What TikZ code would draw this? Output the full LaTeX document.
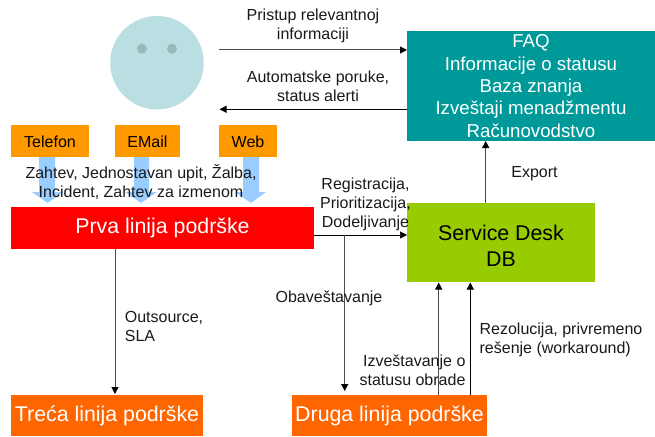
\documentclass[tikz,border=0pt]{standalone}
\usepackage{fontspec}
\setmainfont{Liberation Sans}
\usetikzlibrary{arrows.meta}
\definecolor{teal1}{HTML}{009999}
\definecolor{orange1}{HTML}{FF9900}
\definecolor{orange2}{HTML}{FF6600}
\definecolor{green1}{HTML}{99CC00}
\definecolor{face}{HTML}{B9DFE2}
\definecolor{eye}{HTML}{9AB9BC}
\definecolor{blockarrow}{HTML}{99CCFF}
\tikzset{
  x=1pt,y=-1pt,
  box/.style={draw=none,inner sep=0pt,outer sep=0pt,anchor=north west,align=center},
  lbl/.style={inner sep=0pt,outer sep=0pt,align=center,font=\fontsize{16}{19}\selectfont,text=black!90},
  conn/.style={draw=black,line width=0.7pt,-{Triangle[length=7pt,width=7pt,color=black,fill=black]}},
  conng/.style={draw=black!70,line width=1pt,-{Triangle[length=7pt,width=7pt,color=black,fill=black]}},
  fat/.style={fill=blockarrow,draw=none},
  small/.style={font=\fontsize{16}{19}\selectfont},
  big/.style={font=\fontsize{21.33}{26}\selectfont},
}
\begin{document}
\begin{tikzpicture}
\useasboundingbox (0,0) rectangle (655,436);
% face
\node[circle,fill=face,minimum size=93.5pt,inner sep=0pt] (head) at (157,62.7) {};
\node[circle,fill=eye,minimum size=10pt,inner sep=0pt] (eyeL) at (142,48.7) {};
\node[circle,fill=eye,minimum size=10pt,inner sep=0pt] (eyeR) at (172,48.7) {};
% block arrows
\fill[fat] (39,156) -- (55,156) -- (55,192) -- (63,192) -- (47.7,203) -- (32,192) -- (39,192) -- cycle;
\fill[fat] (134,156) -- (149,156) -- (149,192) -- (157,192) -- (141,203) -- (125,192) -- (134,192) -- cycle;
\fill[fat] (243,156) -- (259,156) -- (259,192) -- (266,192) -- (251,203) -- (235,192) -- (243,192) -- cycle;
% boxes
\node[box,fill=orange1,minimum width=78pt,minimum height=32pt,small,text depth=0pt] (tel) at (11,125) {\raisebox{-1pt}{Telefon}};
\node[box,fill=orange1,minimum width=65pt,minimum height=32pt,small,text depth=0pt] (mail) at (115,125) {\raisebox{-1pt}{EMail}};
\node[box,fill=orange1,minimum width=58pt,minimum height=32pt,small,text depth=0pt] (web) at (219,125) {\raisebox{-1pt}{Web}};
\node[box,fill=red,text=white,minimum width=303pt,minimum height=42pt,big] (prva) at (11,207) {Prva linija podrške};
\node[box,fill=teal1,text=white,minimum width=248pt,minimum height=110pt,font=\fontsize{18.67}{22.4}\selectfont] (faq) at (407,31) {FAQ\\Informacije o statusu\\Baza znanja\\Izveštaji menadžmentu\\Računovodstvo};
\node[box,fill=green1,minimum width=188pt,minimum height=79pt,big] (sd) at (407,203) {\rule{0pt}{21pt}Service Desk\\DB};
\node[box,fill=orange2,text=white,minimum width=192pt,minimum height=41pt,big] (treca) at (11,395) {Treća linija podrške};
\node[box,fill=orange2,text=white,minimum width=195pt,minimum height=41pt,big] (druga) at (292,395) {Druga linija podrške};
% coordinates
\coordinate (a1) at (219,50);
\coordinate (a2) at (407,50);
\coordinate (b1) at (407,109.3);
\coordinate (b2) at (219.5,109.3);
\coordinate (c1) at (314,235);
\coordinate (c2) at (407,235);
\coordinate (d1) at (344.7,235);
\coordinate (d2) at (344.7,391);
\coordinate (e1) at (438.7,395);
\coordinate (e2) at (438.7,282.5);
\coordinate (f1) at (470.3,395);
\coordinate (f2) at (470.3,282.5);
\coordinate (g1) at (485.7,203);
\coordinate (g2) at (485.7,141);
\coordinate (h1) at (115,249);
\coordinate (h2) at (115,394);
% connectors
\draw[conng] (a1) -- (a2);
\draw[conn] (b1) -- (b2);
\draw[conn] (c1) -- (c2);
\draw[conng] (d1) -- (d2);
\draw[conng] (e1) -- (e2);
\draw[conn] (f1) -- (f2);
\draw[conng] (g1) -- (g2);
\draw[conng] (h1) -- (h2);
% labels
\node[lbl] (l1) at (313,25.5) {Pristup relevantnoj\\informaciji};
\node[lbl] (l2) at (318,86) {Automatske poruke,\\status alerti};
\node[lbl] (l3) at (141,182.5) {Zahtev, Jednostavan upit, Žalba,\\Incident, Zahtev za izmenom};
\node[lbl] (l4) at (365.5,204) {Registracija,\\Prioritizacija,\\Dodeljivanje};
\node[lbl] (l5) at (534.5,173.5) {Export};
\node[lbl] (l6) at (329,298.5) {Obaveštavanje};
\node[lbl,align=right] (l7) at (412.5,370) {Izveštavanje o\\statusu obrade};
\node[lbl,align=left] (l8) at (561,339.5) {Rezolucija, privremeno\\rešenje (workaround)};
\node[lbl,align=left] (l9) at (164,326.5) {Outsource,\\SLA};
\end{tikzpicture}
\end{document}
